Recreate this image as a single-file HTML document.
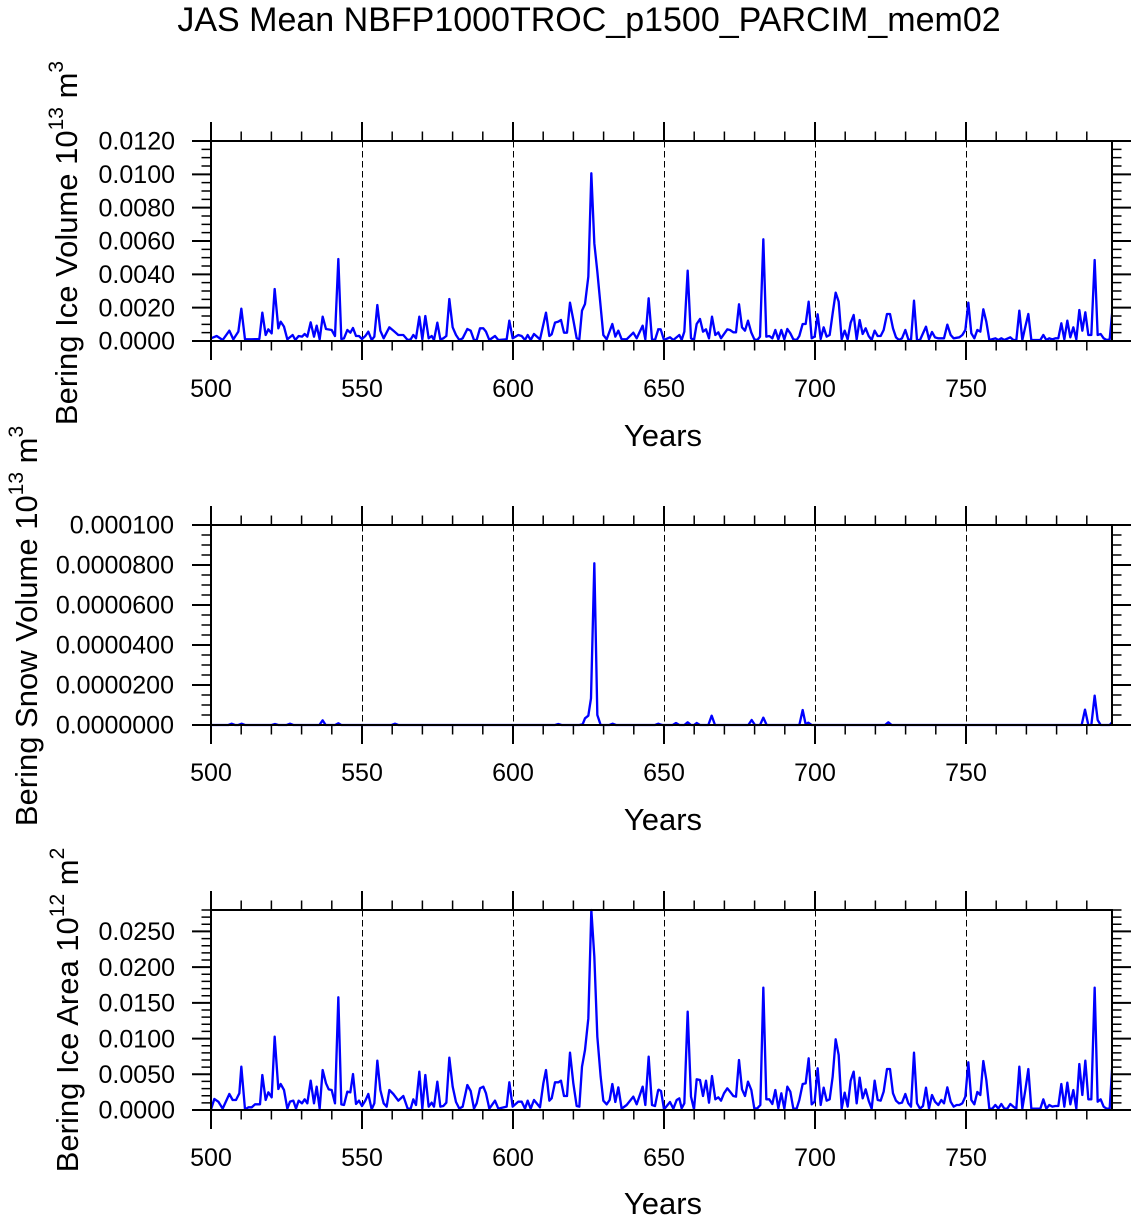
<!DOCTYPE html>
<html><head><meta charset="utf-8"><style>
html,body{margin:0;padding:0;background:#fff;}
svg{display:block;}
text{font-family:"Liberation Sans",Arial,sans-serif;fill:#000;}
</style></head><body>
<svg width="1138" height="1217" viewBox="0 0 1138 1217" xmlns="http://www.w3.org/2000/svg">
<defs>
<clipPath id="c1"><rect x="211" y="139" width="902" height="204"/></clipPath>
<clipPath id="c2"><rect x="211" y="523" width="902" height="204"/></clipPath>
<clipPath id="c3"><rect x="211" y="908" width="902" height="204"/></clipPath>
<g id="xt">
<path d="M211 200v19M362 200v19M513 200v19M664 200v19M815 200v19M966 200v19M211 0v-19M362 0v-19M513 0v-19M664 0v-19M815 0v-19M966 0v-19" stroke="#000" stroke-width="2" fill="none"/>
<path d="M241.2 200v9.5M271.4 200v9.5M301.6 200v9.5M331.8 200v9.5M392.2 200v9.5M422.4 200v9.5M452.6 200v9.5M482.8 200v9.5M543.2 200v9.5M573.4 200v9.5M603.6 200v9.5M633.8 200v9.5M694.2 200v9.5M724.4 200v9.5M754.6 200v9.5M784.8 200v9.5M845.2 200v9.5M875.4 200v9.5M905.6 200v9.5M935.8 200v9.5M996.2 200v9.5M1026.4 200v9.5M1056.6 200v9.5M1086.8 200v9.5M241.2 0v-9.5M271.4 0v-9.5M301.6 0v-9.5M331.8 0v-9.5M392.2 0v-9.5M422.4 0v-9.5M452.6 0v-9.5M482.8 0v-9.5M543.2 0v-9.5M573.4 0v-9.5M603.6 0v-9.5M633.8 0v-9.5M694.2 0v-9.5M724.4 0v-9.5M754.6 0v-9.5M784.8 0v-9.5M845.2 0v-9.5M875.4 0v-9.5M905.6 0v-9.5M935.8 0v-9.5M996.2 0v-9.5M1026.4 0v-9.5M1056.6 0v-9.5M1086.8 0v-9.5" stroke="#000" stroke-width="1.5" fill="none"/>
<path d="M362.5 0V200M513.5 0V200M664.5 0V200M815.5 0V200M966.5 0V200" stroke="#000" stroke-width="1" stroke-dasharray="6.5 3.5" fill="none"/>
</g>
</defs>

<text x="589" y="31" font-size="34" text-anchor="middle">JAS Mean NBFP1000TROC_p1500_PARCIM_mem02</text>

<!-- ================= PANEL 1 ================= -->
<use href="#xt" x="0" y="141"/>
<g transform="translate(0,141)">
<path d="M211 0h-19M211 33.33h-19M211 66.67h-19M211 100h-19M211 133.33h-19M211 166.67h-19M211 200h-19M1112 0h19M1112 33.33h19M1112 66.67h19M1112 100h19M1112 133.33h19M1112 166.67h19M1112 200h19" stroke="#000" stroke-width="2"/>
<path d="M211 8.33h-9.5M211 16.67h-9.5M211 25h-9.5M211 41.67h-9.5M211 50h-9.5M211 58.33h-9.5M211 75h-9.5M211 83.33h-9.5M211 91.67h-9.5M211 108.33h-9.5M211 116.67h-9.5M211 125h-9.5M211 141.67h-9.5M211 150h-9.5M211 158.33h-9.5M211 175h-9.5M211 183.33h-9.5M211 191.67h-9.5M1112 8.33h9.5M1112 16.67h9.5M1112 25h9.5M1112 41.67h9.5M1112 50h9.5M1112 58.33h9.5M1112 75h9.5M1112 83.33h9.5M1112 91.67h9.5M1112 108.33h9.5M1112 116.67h9.5M1112 125h9.5M1112 141.67h9.5M1112 150h9.5M1112 158.33h9.5M1112 175h9.5M1112 183.33h9.5M1112 191.67h9.5" stroke="#000" stroke-width="1.5"/>
</g>
<g clip-path="url(#c1)" fill="none" stroke="#0000ff" stroke-width="7" stroke-linejoin="round">
<polyline transform="translate(180,120) scale(0.33333)" points="93,655 110,648 128,660 148,632 160,658 175,635 184,566 195,658 215,658 238,657 247,578 257,645 265,628 275,640 284,507 295,625 302,605 312,620 322,658 338,645 346,660 356,648 366,650 374,642 382,650 392,607 402,650 410,617 419,658 428,590 438,627 455,630 465,648 475,417 484,657 492,655 502,630 511,638 519,624 528,648 537,648 546,657 556,648 565,635 575,660 583,650 592,555 601,632 611,655 628,622 640,632 655,645 670,645 683,660 692,658 700,645 708,655 718,590 727,658 736,588 746,655 755,648 762,660 772,608 781,658 790,655 799,648 808,537 818,622 828,645 838,660 848,655 862,627 872,632 882,660 890,660 900,625 910,625 918,635 928,660 945,648 955,660 980,658 988,602 998,655 1015,645 1025,648 1035,660 1043,645 1052,660 1062,642 1080,658 1098,578 1108,648 1115,643 1125,608 1135,605 1143,600 1152,638 1161,638 1170,548 1180,600 1190,655 1198,658 1206,572 1215,552 1225,470 1234,160 1243,370 1252,455 1270,645 1280,658 1297,612 1306,650 1315,632 1325,658 1340,658 1360,638 1370,655 1388,617 1396,658 1406,535 1416,658 1425,660 1435,628"/>
<polyline transform="translate(640,120) scale(0.33333)" points="52,628 62,628 72,660 90,652 100,660 118,645 125,660 133,635 143,452 153,655 162,660 170,612 180,597 189,635 198,628 207,655 216,590 226,645 235,637 243,655 262,628 270,630 280,637 288,637 297,553 306,622 315,632 324,602 334,638 343,658 352,660 360,650 370,358 379,650 388,648 397,655 406,630 415,658 424,630 433,658 442,627 451,640 460,658 470,660 478,648 488,612 497,612 506,545 515,655 524,650 533,583 542,657 551,622 560,650 569,645 578,580 587,518 596,545 605,658 614,632 623,658 632,608 641,585 650,658 659,600 668,642 677,625 686,648 695,660 704,632 713,648 722,648 731,630 741,582 750,582 759,625 768,652 777,660 786,655 796,630 805,658 813,660 822,542 831,660 840,660 858,620 867,658 876,636 885,652 895,655 912,655 922,614 932,645 941,655 958,652 967,645 976,630 985,548 994,640 1003,655 1012,630 1021,635 1030,568 1039,605 1048,660 1066,655 1075,660 1084,655 1093,660 1111,652 1120,660 1129,660 1138,572 1147,660 1156,620 1165,582 1174,660 1192,660 1201,660 1210,645 1219,660 1228,655 1237,658 1246,655 1255,655 1264,610 1273,658 1282,602 1291,652 1300,622 1309,658 1318,570 1327,632 1336,577 1345,645 1354,645 1364,420 1373,645 1382,642 1391,655 1400,660 1409,658 1418,562"/>
</g>
<rect x="211" y="141" width="901" height="200" fill="none" stroke="#000" stroke-width="2"/>
<g font-size="25" text-anchor="end">
<text x="175" y="149.7">0.0120</text>
<text x="175" y="183">0.0100</text>
<text x="175" y="216.4">0.0080</text>
<text x="175" y="249.7">0.0060</text>
<text x="175" y="283">0.0040</text>
<text x="175" y="316.4">0.0020</text>
<text x="175" y="349.7">0.0000</text>
</g>
<g font-size="25" text-anchor="middle">
<text x="211" y="397">500</text><text x="362" y="397">550</text><text x="513" y="397">600</text><text x="664" y="397">650</text><text x="815" y="397">700</text><text x="966" y="397">750</text>
</g>
<text x="663" y="446" font-size="31" text-anchor="middle">Years</text>
<text transform="translate(77,243) rotate(-90)" font-size="31" text-anchor="middle">Bering Ice Volume 10<tspan font-size="21" dy="-14">13</tspan><tspan dy="14"> m</tspan><tspan font-size="21" dy="-14">3</tspan></text>

<!-- ================= PANEL 2 ================= -->
<use href="#xt" x="0" y="525"/>
<g transform="translate(0,525)">
<path d="M211 0h-19M211 40h-19M211 80h-19M211 120h-19M211 160h-19M211 200h-19M1112 0h19M1112 40h19M1112 80h19M1112 120h19M1112 160h19M1112 200h19" stroke="#000" stroke-width="2"/>
<path d="M211 10h-9.5M211 20h-9.5M211 30h-9.5M211 50h-9.5M211 60h-9.5M211 70h-9.5M211 90h-9.5M211 100h-9.5M211 110h-9.5M211 130h-9.5M211 140h-9.5M211 150h-9.5M211 170h-9.5M211 180h-9.5M211 190h-9.5M1112 10h9.5M1112 20h9.5M1112 30h9.5M1112 50h9.5M1112 60h9.5M1112 70h9.5M1112 90h9.5M1112 100h9.5M1112 110h9.5M1112 130h9.5M1112 140h9.5M1112 150h9.5M1112 170h9.5M1112 180h9.5M1112 190h9.5" stroke="#000" stroke-width="1.5"/>
</g>
<g clip-path="url(#c2)" fill="none" stroke="#0000ff" stroke-width="7" stroke-linejoin="round">
<polyline transform="translate(180,505) scale(0.33333)" points="93,660 145,660 155,656 165,660 175,660 185,656 195,660 275,660 285,657 295,660 320,660 330,656 340,660 418,660 428,646 437,660 465,660 475,655 484,660 635,660 645,656 655,660 1125,660 1135,657 1145,660 1198,660 1208,658 1215,640 1225,632 1233,580 1243,175 1252,630 1262,660 1288,660 1298,656 1308,660 1425,660 1435,656 1440,658"/>
<polyline transform="translate(640,505) scale(0.33333)" points="58,658 68,660 98,660 108,654 118,660 133,660 143,652 153,660 162,660 170,654 180,660 205,660 215,632 225,660 325,660 335,645 345,660 360,660 370,638 380,660 478,660 488,615 497,658 505,653 515,660 735,660 745,652 755,660 1325,660 1335,614 1345,660 1354,660 1364,572 1373,645 1382,660 1409,660 1418,650"/>
</g>
<rect x="211" y="525" width="901" height="200" fill="none" stroke="#000" stroke-width="2"/>
<g font-size="25" text-anchor="end">
<text x="174" y="533.7">0.000100</text>
<text x="174" y="573.7">0.0000800</text>
<text x="174" y="613.7">0.0000600</text>
<text x="174" y="653.7">0.0000400</text>
<text x="174" y="693.7">0.0000200</text>
<text x="174" y="733.7">0.0000000</text>
</g>
<g font-size="25" text-anchor="middle">
<text x="211" y="781">500</text><text x="362" y="781">550</text><text x="513" y="781">600</text><text x="664" y="781">650</text><text x="815" y="781">700</text><text x="966" y="781">750</text>
</g>
<text x="663" y="830" font-size="31" text-anchor="middle">Years</text>
<text transform="translate(37,626) rotate(-90)" font-size="31" text-anchor="middle">Bering Snow Volume 10<tspan font-size="21" dy="-14">13</tspan><tspan dy="14"> m</tspan><tspan font-size="21" dy="-14">3</tspan></text>

<!-- ================= PANEL 3 ================= -->
<use href="#xt" x="0" y="910"/>
<g transform="translate(0,910)">
<path d="M211 21.43h-19M211 57.14h-19M211 92.86h-19M211 128.57h-19M211 164.29h-19M211 200h-19M1112 21.43h19M1112 57.14h19M1112 92.86h19M1112 128.57h19M1112 164.29h19M1112 200h19" stroke="#000" stroke-width="2"/>
<path d="M211 0h-9.5M211 7.14h-9.5M211 14.29h-9.5M211 28.57h-9.5M211 35.71h-9.5M211 42.86h-9.5M211 50h-9.5M211 64.29h-9.5M211 71.43h-9.5M211 78.57h-9.5M211 85.71h-9.5M211 100h-9.5M211 107.14h-9.5M211 114.29h-9.5M211 121.43h-9.5M211 135.71h-9.5M211 142.86h-9.5M211 150h-9.5M211 157.14h-9.5M211 171.43h-9.5M211 178.57h-9.5M211 185.71h-9.5M211 192.86h-9.5M1112 0h9.5M1112 7.14h9.5M1112 14.29h9.5M1112 28.57h9.5M1112 35.71h9.5M1112 42.86h9.5M1112 50h9.5M1112 64.29h9.5M1112 71.43h9.5M1112 78.57h9.5M1112 85.71h9.5M1112 100h9.5M1112 107.14h9.5M1112 114.29h9.5M1112 121.43h9.5M1112 135.71h9.5M1112 142.86h9.5M1112 150h9.5M1112 157.14h9.5M1112 171.43h9.5M1112 178.57h9.5M1112 185.71h9.5M1112 192.86h9.5" stroke="#000" stroke-width="1.5"/>
</g>
<g clip-path="url(#c3)" fill="none" stroke="#0000ff" stroke-width="7" stroke-linejoin="round">
<polyline transform="translate(180,890) scale(0.33333)" points="93,658 103,627 115,635 128,656 148,612 158,630 168,630 178,610 184,530 195,658 205,652 215,652 225,643 240,643 247,555 257,630 265,607 275,622 284,440 295,597 302,582 312,600 322,656 330,635 340,632 348,656 356,632 366,640 374,628 382,640 392,572 402,640 410,590 419,656 428,540 438,580 446,598 455,600 465,640 475,322 484,643 492,645 502,605 511,607 519,552 528,642 537,632 546,648 556,632 565,612 575,658 583,640 592,512 601,600 611,640 620,650 628,600 640,612 655,632 670,618 683,656 692,656 700,628 708,645 718,545 727,656 736,555 746,650 755,638 762,650 772,575 781,650 790,648 799,638 808,503 818,590 828,636 838,656 848,650 862,585 872,603 882,656 890,640 900,595 910,590 918,610 928,656 945,632 955,656 980,650 988,577 998,650 1015,635 1025,635 1035,656 1043,632 1052,656 1062,630 1080,652 1090,580 1098,540 1108,632 1115,625 1125,577 1135,577 1143,572 1152,618 1161,618 1170,488 1180,580 1190,648 1198,650 1206,530 1215,480 1225,385 1234,60 1243,200 1252,440 1262,560 1270,632 1280,643 1289,630 1297,582 1306,636 1315,592 1325,656 1340,645 1360,620 1370,643 1388,590 1396,645 1406,500 1416,645 1425,648 1435,598"/>
<polyline transform="translate(640,890) scale(0.33333)" points="54,598 63,603 72,658 90,636 100,656 110,630 118,625 125,655 133,640 143,365 153,620 162,658 170,568 180,570 189,618 198,572 207,638 216,558 226,628 235,622 243,632 252,610 262,595 270,605 280,618 288,620 297,510 306,598 315,618 324,575 334,600 343,656 352,655 361,645 370,293 379,628 388,628 397,642 406,600 415,655 424,610 433,656 442,590 451,605 460,656 470,656 478,630 488,582 497,580 506,505 515,643 524,635 533,535 542,645 551,593 560,632 569,628 578,560 587,448 596,495 605,656 614,608 623,650 632,572 641,545 650,640 659,563 668,625 677,598 686,632 695,656 704,572 713,630 722,632 731,605 741,537 750,537 759,610 768,632 777,640 786,638 796,612 805,640 813,650 822,488 831,640 840,656 849,648 858,593 867,656 876,615 885,635 895,645 904,630 912,640 922,592 932,635 941,650 950,645 958,645 967,640 976,620 985,517 994,630 1003,643 1012,606 1021,615 1030,513 1039,570 1048,656 1057,656 1066,645 1075,656 1084,642 1093,656 1102,656 1111,642 1120,650 1129,656 1138,530 1147,656 1156,600 1165,537 1174,656 1183,656 1192,656 1201,656 1210,628 1219,656 1228,645 1237,650 1246,648 1255,648 1264,582 1273,650 1282,578 1291,643 1300,600 1309,656 1318,522 1327,615 1336,512 1345,628 1354,628 1364,293 1373,635 1382,628 1391,650 1400,656 1409,656 1418,510"/>
</g>
<rect x="211" y="910" width="901" height="200" fill="none" stroke="#000" stroke-width="2"/>
<g font-size="25" text-anchor="end">
<text x="175" y="940.1">0.0250</text>
<text x="175" y="975.8">0.0200</text>
<text x="175" y="1011.6">0.0150</text>
<text x="175" y="1047.3">0.0100</text>
<text x="175" y="1083">0.0050</text>
<text x="175" y="1118.7">0.0000</text>
</g>
<g font-size="25" text-anchor="middle">
<text x="211" y="1166">500</text><text x="362" y="1166">550</text><text x="513" y="1166">600</text><text x="664" y="1166">650</text><text x="815" y="1166">700</text><text x="966" y="1166">750</text>
</g>
<text x="663" y="1214" font-size="31" text-anchor="middle">Years</text>
<text transform="translate(78,1010) rotate(-90)" font-size="31" text-anchor="middle">Bering Ice Area 10<tspan font-size="21" dy="-14">12</tspan><tspan dy="14"> m</tspan><tspan font-size="21" dy="-14">2</tspan></text>
</svg>
</body></html>
